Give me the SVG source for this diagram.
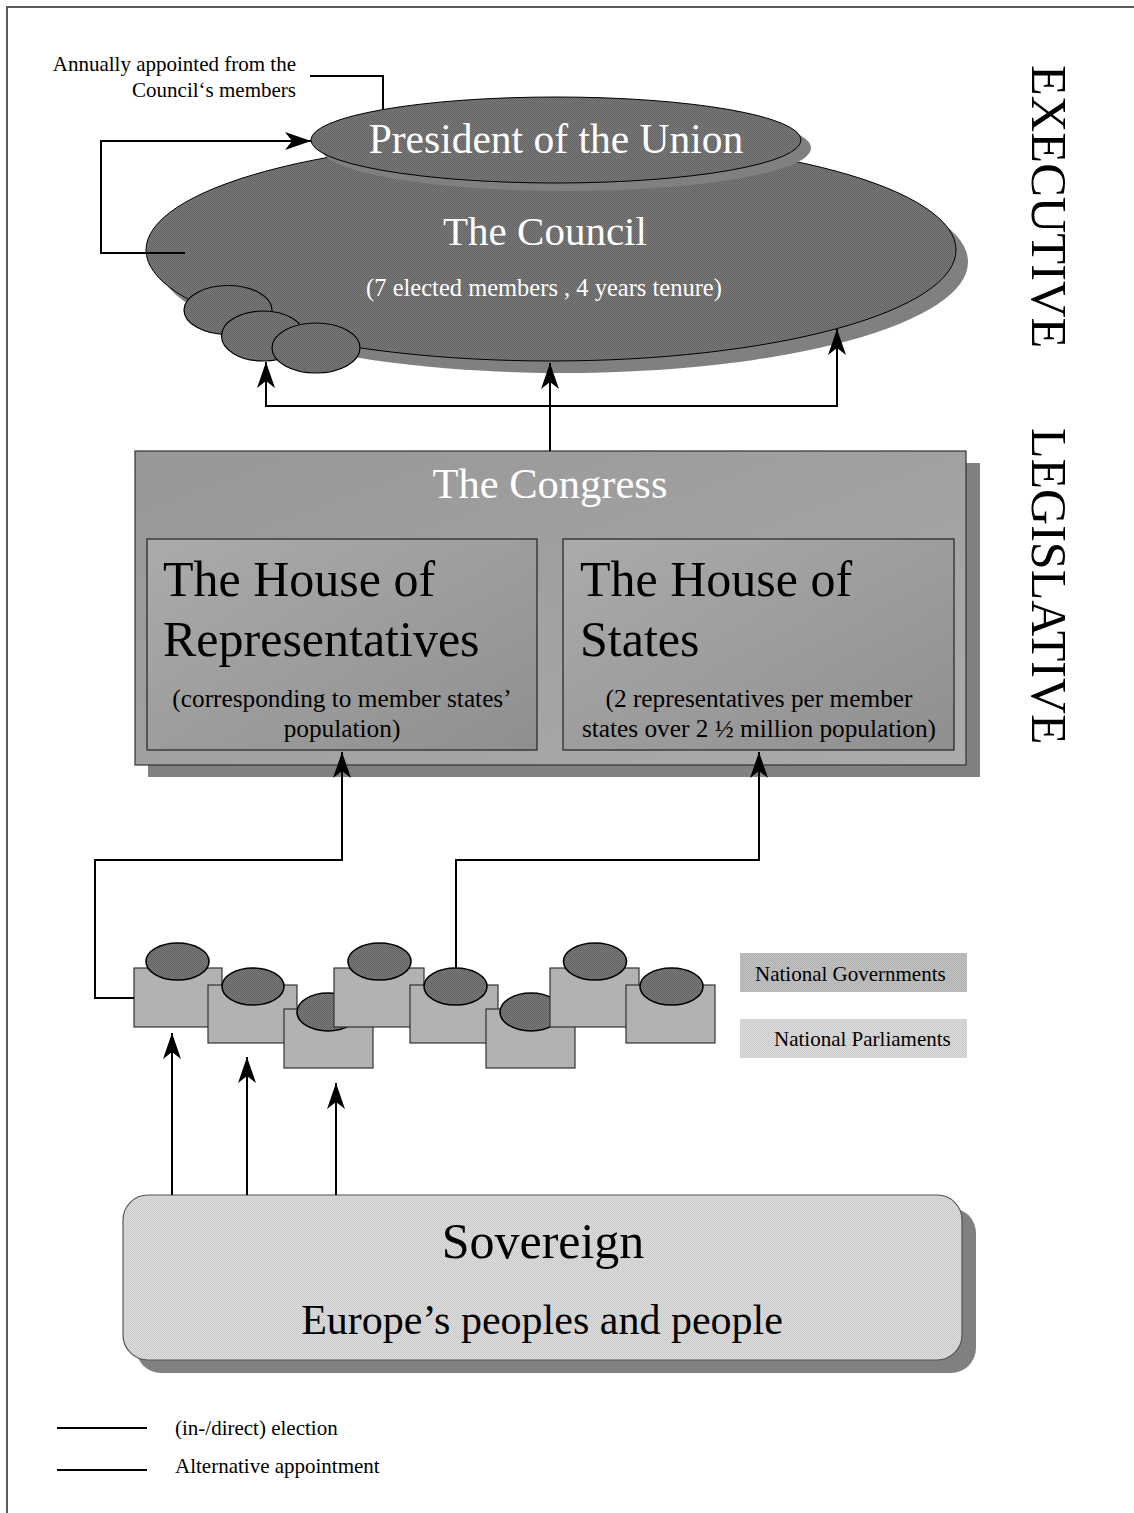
<svg xmlns="http://www.w3.org/2000/svg" width="1134" height="1513" viewBox="0 0 1134 1513">
<defs>
<style>
text{font-family:"Liberation Serif","Times New Roman",serif;}
.wt{fill:#ffffff;}
.bk{fill:#000000;}
.conn{fill:none;stroke:#000;stroke-width:2;}
.shadow{fill:#808080;}
.nrect{fill:#b2b2b2;stroke:#333;stroke-width:1.2;}
.nell{fill:url(#dotDark);stroke:#000;stroke-width:1.6;}
</style>
<pattern id="dotDark" width="2" height="2" patternUnits="userSpaceOnUse">
<rect width="2" height="2" fill="#7a7a7a"/>
<rect width="1" height="1" fill="#636363"/>
<rect x="1" y="1" width="1" height="1" fill="#636363"/>
</pattern>
<pattern id="dotLight" width="2" height="2" patternUnits="userSpaceOnUse">
<rect width="2" height="2" fill="#dcdcdc"/>
<rect width="1" height="1" fill="#cbcbcb"/>
<rect x="1" y="1" width="1" height="1" fill="#cbcbcb"/>
</pattern>
<pattern id="dotGov" width="2" height="2" patternUnits="userSpaceOnUse">
<rect width="2" height="2" fill="#c2c2c2"/>
<rect width="1" height="1" fill="#b2b2b2"/>
<rect x="1" y="1" width="1" height="1" fill="#b2b2b2"/>
</pattern>
<linearGradient id="outerGrad" x1="0" y1="0" x2="1" y2="1">
<stop offset="0" stop-color="#979797"/>
<stop offset="1" stop-color="#ababab"/>
</linearGradient>
<linearGradient id="innerGrad" x1="0" y1="0" x2="1" y2="1">
<stop offset="0" stop-color="#ababab"/>
<stop offset="1" stop-color="#8f8f8f"/>
</linearGradient>
<marker id="arr" markerUnits="userSpaceOnUse" markerWidth="28" markerHeight="20" refX="26" refY="9.5" orient="auto">
<path d="M26,9.5 L0,0.5 L7,9.5 L0,18.5 Z" fill="#000"/>
</marker>
</defs>

<g id="frame">
<path d="M7,1513 V7 H1134" fill="none" stroke="#5a5a5a" stroke-width="2"/>
</g>

<g id="annotation">
<text x="296" y="71" font-size="21" text-anchor="end" class="bk">Annually appointed from the</text>
<text x="296" y="97" font-size="21" text-anchor="end" class="bk">Council‘s members</text>
</g>

<g id="council">
<ellipse cx="563" cy="262" rx="405" ry="111" class="shadow"/>
<ellipse cx="551" cy="250" rx="405" ry="111" fill="url(#dotDark)" stroke="#000" stroke-width="1"/>
<ellipse cx="228" cy="310" rx="44" ry="24.5" fill="url(#dotDark)" stroke="#000" stroke-width="1.2"/>
<ellipse cx="263" cy="336" rx="41.5" ry="25" fill="url(#dotDark)" stroke="#000" stroke-width="1.2"/>
<ellipse cx="316" cy="348" rx="44" ry="25" fill="url(#dotDark)" stroke="#000" stroke-width="1.2"/>
<text x="545" y="245" font-size="41" text-anchor="middle" class="wt">The Council</text>
<text x="544" y="296" font-size="24.5" text-anchor="middle" class="wt">(7 elected members , 4 years tenure)</text>
</g>

<g id="president">
<ellipse cx="566" cy="148" rx="245" ry="43" class="shadow"/>
<ellipse cx="556" cy="140" rx="245" ry="43" fill="url(#dotDark)" stroke="#000" stroke-width="1"/>
<text x="556" y="153" font-size="41.5" text-anchor="middle" class="wt">President of the Union</text>
</g>

<g id="congress">
<rect x="148" y="463" width="832" height="314" class="shadow"/>
<rect x="135" y="451" width="831" height="314" fill="url(#outerGrad)" stroke="#333" stroke-width="1.2"/>
<text x="550" y="498" font-size="42.5" text-anchor="middle" class="wt">The Congress</text>
</g>

<g id="house-representatives">
<rect x="147" y="539" width="390" height="211" fill="url(#innerGrad)" stroke="#222" stroke-width="1.2"/>
<text x="163" y="596" font-size="50" class="bk">The House of</text>
<text x="163" y="656" font-size="50" class="bk">Representatives</text>
<text x="342" y="707" font-size="25.3" text-anchor="middle" class="bk">(corresponding to member states’</text>
<text x="342" y="737" font-size="25.3" text-anchor="middle" class="bk">population)</text>
</g>

<g id="house-states">
<rect x="563" y="539" width="391" height="211" fill="url(#innerGrad)" stroke="#222" stroke-width="1.2"/>
<text x="580" y="596" font-size="50" class="bk">The House of</text>
<text x="580" y="656" font-size="50" class="bk">States</text>
<text x="759" y="707" font-size="25.3" text-anchor="middle" class="bk">(2 representatives per member</text>
<text x="759" y="737" font-size="25.3" text-anchor="middle" class="bk">states over 2 ½ million population)</text>
</g>

<g id="nations">
<rect x="134" y="968" width="88" height="59" class="nrect"/>
<ellipse cx="177.5" cy="961.5" rx="31.5" ry="18.5" class="nell"/>
<rect x="208" y="985" width="89" height="58" class="nrect"/>
<ellipse cx="253" cy="986.5" rx="31" ry="18.5" class="nell"/>
<rect x="284" y="1009" width="89" height="59" class="nrect"/>
<ellipse cx="328" cy="1012" rx="31" ry="19" class="nell"/>
<rect x="334" y="968" width="90" height="59" class="nrect"/>
<ellipse cx="379.5" cy="961.5" rx="31.5" ry="18.5" class="nell"/>
<rect x="410" y="985" width="88" height="58" class="nrect"/>
<ellipse cx="455.5" cy="986.5" rx="31.5" ry="18.5" class="nell"/>
<rect x="486" y="1009" width="89" height="59" class="nrect"/>
<ellipse cx="531" cy="1012" rx="31" ry="19" class="nell"/>
<rect x="550" y="968" width="89" height="59" class="nrect"/>
<ellipse cx="595" cy="961.5" rx="31.5" ry="18.5" class="nell"/>
<rect x="626" y="985" width="89" height="58" class="nrect"/>
<ellipse cx="671.5" cy="986.5" rx="31.5" ry="18.5" class="nell"/>
</g>

<g id="nation-key">
<rect x="740" y="953" width="227" height="39" fill="url(#dotGov)"/>
<text x="755" y="981" font-size="21" class="bk">National Governments</text>
<rect x="740" y="1019" width="227" height="39" fill="url(#dotLight)"/>
<text x="774" y="1046" font-size="21" class="bk">National Parliaments</text>
</g>

<g id="sovereign">
<rect x="136" y="1208" width="840" height="165" rx="25" ry="25" class="shadow"/>
<rect x="123" y="1195" width="839" height="165" rx="25" ry="25" fill="url(#dotLight)" stroke="#555" stroke-width="1.2"/>
<text x="543" y="1258" font-size="50" text-anchor="middle" class="bk">Sovereign</text>
<text x="542" y="1334" font-size="42" text-anchor="middle" class="bk">Europe’s peoples and people</text>
</g>

<g id="side-labels">
<text transform="translate(1032,65) rotate(90)" font-size="50.5" class="bk">EXECUTIVE</text>
<text transform="translate(1032,428) rotate(90)" font-size="50" class="bk">LEGISLATIVE</text>
</g>

<g id="connectors">
<path class="conn" d="M310,76 H383 V109"/>
<path class="conn" d="M185,253 H101 V141 H311" marker-end="url(#arr)"/>
<path class="conn" d="M550,451 V363" marker-end="url(#arr)"/>
<path class="conn" d="M550,406 H266 V362" marker-end="url(#arr)"/>
<path class="conn" d="M550,406 H837 V329" marker-end="url(#arr)"/>
<path class="conn" d="M134,998 H95 V860 H342 V752" marker-end="url(#arr)"/>
<path class="conn" d="M456,968 V860 H759 V752" marker-end="url(#arr)"/>
<path class="conn" d="M172,1195 V1033" marker-end="url(#arr)"/>
<path class="conn" d="M247,1195 V1057" marker-end="url(#arr)"/>
<path class="conn" d="M336,1195 V1083" marker-end="url(#arr)"/>
</g>

<g id="legend">
<path class="conn" d="M57,1428 H147"/>
<path class="conn" d="M57,1470 H147"/>
<text x="175" y="1435" font-size="21" class="bk">(in-/direct) election</text>
<text x="175" y="1473" font-size="21" class="bk">Alternative appointment</text>
</g>
</svg>
